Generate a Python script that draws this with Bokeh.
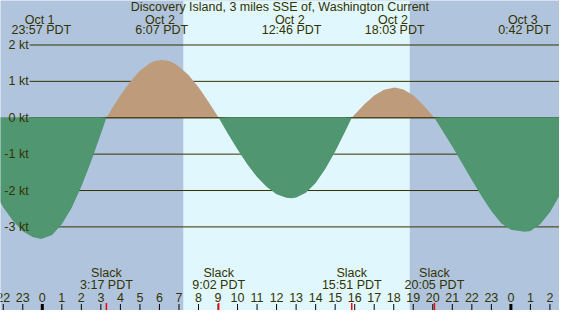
from bokeh.plotting import figure
from bokeh.models import BoxAnnotation, ColumnDataSource
from bokeh.core.properties import value
from bokeh.embed import file_html
from bokeh.resources import INLINE
import numpy as np

# ---- data (hours from Oct 2 00:00 PDT, knots) ----
curve_hours = [-2.5, -2.0, -1.5, -1.0, -0.5, -0.05, 0.5, 1.0, 1.5, 2.0, 2.5, 3.0, 3.283,
               3.5, 4.0, 4.5, 5.0, 5.5, 5.75, 6.117, 6.5, 6.75, 7.0, 7.5, 8.0, 8.5, 9.033,
               9.5, 10.0, 10.5, 11.0, 11.5, 12.0, 12.5, 12.767, 13.0, 13.5, 14.0, 14.5,
               15.0, 15.5, 15.85, 16.0, 16.5, 17.0, 17.5, 18.05, 18.5, 19.0, 19.5, 20.083,
               20.5, 21.0, 21.5, 22.0, 22.5, 23.0, 23.5, 24.0, 24.7, 25.0, 25.5, 26.0,
               26.5, 27.0]
curve_knots = [-2.00, -2.46, -2.84, -3.12, -3.28, -3.33, -3.22, -2.93, -2.48, -1.89, -1.20,
               -0.44, 0.0, 0.19, 0.62, 0.99, 1.29, 1.50, 1.56, 1.59, 1.56, 1.50, 1.41, 1.17,
               0.84, 0.45, 0.0, -0.43, -0.87, -1.28, -1.63, -1.90, -2.10, -2.20, -2.21,
               -2.19, -2.06, -1.79, -1.40, -0.93, -0.39, 0.0, 0.09, 0.37, 0.61, 0.77, 0.83,
               0.78, 0.62, 0.36, 0.0, -0.36, -0.79, -1.25, -1.71, -2.16, -2.56, -2.90,
               -3.08, -3.13, -3.11, -2.93, -2.60, -2.13, -1.55]

max_hours = [-0.05, 6.117, 12.767, 18.05, 24.7]
max_dates = ["Oct  1", "Oct  2", "Oct  2", "Oct  2", "Oct  3"]
max_clock = ["23:57 PDT", "6:07 PDT", "12:46 PDT", "18:03 PDT", "0:42 PDT"]

slack_hours = [3.283, 9.033, 15.85, 20.083]
slack_clock = ["3:17 PDT", "9:02 PDT", "15:51 PDT", "20:05 PDT"]

sunrise_hour = 7.22
sunset_hour = 18.82

kt_levels = [2, 1, 0, -1, -2, -3]
kt_labels = ["2 kt", "1 kt", "0 kt", "-1 kt", "-2 kt", "-3 kt"]

tick_hours = list(range(-2, 27))
tick_labels = [str(h % 24) for h in tick_hours]

title = "Discovery Island, 3 miles SSE of, Washington Current"

# ---- styling ----
NIGHT = "#B0C4DE"
DAY = "#E0F7FE"
FLOOD = "#BE9B7B"
EBB = "#509670"
INK = "#333300"
FONT = value("Liberation Sans")
FS = value("12.5px")

X0, X1 = -2.141, 26.49
Y0, Y1 = -5.298, 3.223

p = figure(width=559, height=310, x_range=(X0, X1), y_range=(Y0, Y1),
           output_backend="svg", toolbar_location=None,
           x_axis_location=None, y_axis_location=None, min_border=0)
p.outline_line_color = None
p.grid.visible = False
p.background_fill_color = NIGHT
p.border_fill_color = NIGHT

p.add_layout(BoxAnnotation(left=sunrise_hour, right=sunset_hour, fill_color=DAY,
                           fill_alpha=1.0, line_color=None, level="underlay"))

# grid lines (start right of the labels)
grid_x0 = -0.647
p.segment(x0=[grid_x0] * len(kt_levels), x1=[X1] * len(kt_levels),
          y0=kt_levels, y1=kt_levels, line_color=INK, line_width=1)

hrs = np.array(curve_hours)
kts = np.array(curve_knots)
p.varea(x=hrs, y1=np.zeros_like(kts), y2=np.maximum(kts, 0), fill_color=FLOOD)
p.segment(x0=[grid_x0], x1=[X1], y0=[0], y1=[0], line_color=INK, line_width=1)
p.varea(x=hrs, y1=np.full_like(kts, 0.014) * (kts < 0), y2=np.minimum(kts, 0), fill_color=EBB)

# y labels
p.text(x=[-0.70] * len(kt_levels), y=kt_levels, text=kt_labels, text_align="right",
       text_baseline="middle", text_font=FONT, text_font_size=FS, text_color=INK)

# title and max/min labels
p.text(x=[12.17], y=[3.04], text=[title], text_align="center", text_baseline="middle",
       text_font=FONT, text_font_size=FS, text_color=INK)
p.text(x=max_hours, y=[2.70] * len(max_hours), text=max_dates, text_align="center",
       text_baseline="middle", text_font=FONT, text_font_size=FS, text_color=INK)
p.text(x=max_hours, y=[2.40] * len(max_hours), text=max_clock, text_align="center",
       text_baseline="middle", text_font=FONT, text_font_size=FS, text_color=INK)

# slack labels
p.text(x=slack_hours, y=[-4.28] * len(slack_hours), text=["Slack"] * len(slack_hours),
       text_align="center", text_baseline="middle", text_font=FONT, text_font_size=FS,
       text_color=INK)
p.text(x=slack_hours, y=[-4.59] * len(slack_hours), text=slack_clock, text_align="center",
       text_baseline="middle", text_font=FONT, text_font_size=FS, text_color=INK)

# hour ticks
p.text(x=tick_hours, y=[-4.93] * len(tick_hours), text=tick_labels, text_align="center",
       text_baseline="middle", text_font=FONT, text_font_size=FS, text_color=INK)
thin = [h for h in tick_hours if h % 24 != 0]
thick = [h for h in tick_hours if h % 24 == 0]
p.segment(x0=thin, x1=thin, y0=[-5.12] * len(thin), y1=[Y0] * len(thin),
          line_color="#000000", line_width=1)
p.segment(x0=thick, x1=thick, y0=[-5.12] * len(thick), y1=[Y0] * len(thick),
          line_color="#000000", line_width=3)
p.segment(x0=slack_hours, x1=slack_hours, y0=[-5.09] * len(slack_hours),
          y1=[Y0] * len(slack_hours), line_color="#FF0000", line_width=1.5)

open("out.html", "w").write(file_html(p, INLINE))
